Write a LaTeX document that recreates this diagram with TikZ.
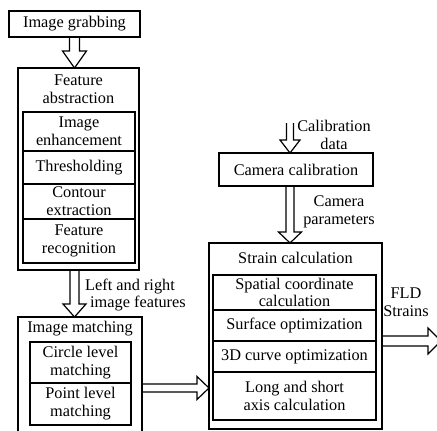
\documentclass[tikz,border=0pt]{standalone}
\usepackage{fontspec}
\setmainfont{Liberation Serif}
\usetikzlibrary{positioning,calc}

% hollow block arrows: from, to, half shaft, half head, head length
\newcommand{\downhollow}[5]{\draw[hollow] let \p1=(#1), \p2=(#2) in
  (\x1-#3,\y1) -- (\x1-#3,\y2+#5) -- (\x1-#4,\y2+#5) -- (\x1,\y2)
  -- (\x1+#4,\y2+#5) -- (\x1+#3,\y2+#5) -- (\x1+#3,\y1);}
\newcommand{\righthollow}[5]{\draw[hollow] let \p1=(#1), \p2=(#2) in
  (\x1,\y1+#3) -- (\x2-#5,\y1+#3) -- (\x2-#5,\y1+#4) -- (\x2,\y1)
  -- (\x2-#5,\y1-#4) -- (\x2-#5,\y1-#3) -- (\x1,\y1-#3);}

\begin{document}
\begin{tikzpicture}[x=1pt,y=-1pt,line join=miter,
    every node/.style={font=\fontsize{16.3}{17.8}\selectfont},
    box/.style={draw,line width=1.6pt,outer sep=0pt,inner sep=0pt,anchor=north west},
    stage/.style={draw,line width=1.2pt,outer sep=0pt,inner sep=0pt,align=center,minimum width=#1},
    lbl/.style={inner sep=0pt,align=center},
    hollow/.style={draw,line width=1.2pt}]
  \clip (0,0) rectangle (437,431);
  \fill[white] (0,0) rectangle (437,431);

  % left column
  \node[box,minimum width=131,minimum height=26] (grab) at (9,11) {Image grabbing};

  \node[box,minimum width=121,minimum height=202] (feat) at (18,68) {};
  \node[lbl] (feattitle) at (78.5,89) {Feature\\abstraction};
  \node[stage=112,minimum height=39,anchor=north west] (enh) at (23,112) {Image\\enhancement};
  \node[stage=112,minimum height=33,below=0pt of enh] (thr) {Thresholding};
  \node[stage=112,minimum height=35,below=0pt of thr] (cont) {Contour\\extraction};
  \node[stage=112,minimum height=44,below=0pt of cont] (rec) {Feature\\recognition};

  \node[box,minimum width=124,minimum height=130] (match) at (18,317) {};
  \node[lbl] (matchtitle) at (80,329) {Image matching};
  \node[stage=101,minimum height=41,anchor=north west] (circ) at (30,342) {Circle level\\matching};
  \node[stage=101,minimum height=42,below=0pt of circ] (point) {Point level\\matching};

  % right column
  \node[box,minimum width=154,minimum height=33] (cam) at (219,153) {Camera calibration};

  \node[box,minimum width=173,minimum height=186] (strain) at (209,243) {};
  \node[lbl] (straintitle) at (295.5,258) {Strain calculation};
  \node[stage=163,minimum height=35,anchor=north west] (spat) at (213,275) {Spatial coordinate\\calculation};
  \node[stage=163,minimum height=31,below=0pt of spat] (surf) {Surface optimization};
  \node[stage=163,minimum height=31,below=0pt of surf] (curve) {3D curve optimization};
  \node[stage=163,minimum height=48,below=0pt of curve] (axis) {Long and short\\axis calculation};

  % labels
  \node[lbl,align=left,anchor=west] (lrlabel) at (85,295) {Left and right\\\hspace{5pt}image features};
  \node[lbl] (callabel) at (334,135) {Calibration\\data};
  \node[lbl] (camlabel) at (339,212) {Camera\\parameters};
  \node[lbl] (fldlabel) at (406,302) {FLD\\Strains};

  \coordinate (calsrc) at (290,123);
  \coordinate (fldend) at (441,342);

  % arrows
  \downhollow{grab.south}{grab.south |- feat.north}{5pt}{12pt}{17pt}
  \downhollow{grab.south |- feat.south}{grab.south |- match.north}{4.5pt}{11.5pt}{13pt}
  \downhollow{calsrc}{calsrc |- cam.north}{3.5pt}{10pt}{13pt}
  \downhollow{calsrc |- cam.south}{calsrc |- strain.north}{4pt}{11.5pt}{11pt}
  \righthollow{$(match.east |- circ.south)+(0,5)$}{strain.west}{4pt}{11.5pt}{12pt}
  \righthollow{strain.east |- surf.south}{fldend}{5pt}{13pt}{13pt}
\end{tikzpicture}
\end{document}
